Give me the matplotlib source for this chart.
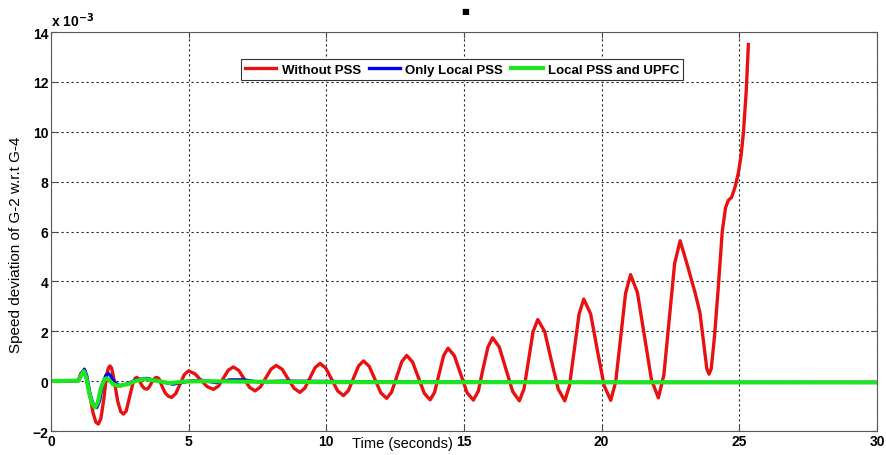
import numpy as np
import matplotlib.pyplot as plt

# speed deviation (x 1e-3)
t_red = [0.0, 0.9, 1.0, 1.08, 1.17, 1.26, 1.4, 1.52, 1.63, 1.72, 1.81, 1.92, 2.02, 2.08,
         2.14, 2.2, 2.3, 2.42, 2.53, 2.63, 2.73, 2.85, 2.97, 3.05, 3.11, 3.18, 3.3, 3.4,
         3.48, 3.56, 3.68, 3.78, 3.84, 3.92, 4.05, 4.15, 4.27, 4.38,
         4.53, 4.685, 4.84, 4.99, 5.22, 5.445, 5.67, 5.9, 6.08, 6.26, 6.44, 6.62,
         6.82, 7.015, 7.21, 7.41, 7.6, 7.795, 7.99, 8.18, 8.4, 8.61, 8.83, 9.04,
         9.22, 9.405, 9.59, 9.77, 9.98, 10.195, 10.41, 10.62, 10.8, 10.985, 11.17, 11.35,
         11.56, 11.77, 11.98, 12.19, 12.37, 12.555, 12.74, 12.92, 13.13, 13.345, 13.56, 13.77,
         13.93, 14.095, 14.26, 14.42, 14.65, 14.88, 15.11, 15.34, 15.52, 15.69, 15.87, 16.04,
         16.28, 16.525, 16.77, 17.01, 17.18, 17.345, 17.51, 17.68, 17.93, 18.17, 18.42, 18.66,
         18.83, 19.005, 19.18, 19.35, 19.6, 19.84, 20.09, 20.33, 20.51, 20.69, 20.87, 21.05,
         21.3, 21.555, 21.81, 22.06, 22.26, 22.455, 22.65, 22.85, 23.1, 23.39, 23.57,
         23.72, 23.82, 23.9, 23.98, 24.1, 24.24, 24.38, 24.5, 24.6, 24.72, 24.85, 24.97,
         25.07, 25.15, 25.25, 25.33]
v_red = [0.0, 0.0, 0.05, 0.3, 0.4, 0.25, -0.5, -1.25, -1.65, -1.72, -1.5, -0.7, 0.25, 0.52,
         0.61, 0.52, 0.0, -0.8, -1.22, -1.32, -1.2, -0.65, -0.1, 0.1, 0.15, 0.1, -0.18, -0.3,
         -0.32, -0.25, 0.0, 0.13, 0.15, 0.1, -0.25, -0.48, -0.61, -0.65,
         -0.5, -0.12, 0.26, 0.41, 0.3, 0.04, -0.22, -0.33, -0.2, 0.12, 0.44, 0.57,
         0.43, 0.09, -0.25, -0.39, -0.24, 0.12, 0.48, 0.63, 0.47, 0.09, -0.29, -0.45,
         -0.28, 0.13, 0.54, 0.71, 0.52, 0.07, -0.39, -0.58, -0.38, 0.12, 0.61, 0.81,
         0.59, 0.06, -0.47, -0.69, -0.44, 0.17, 0.78, 1.03, 0.77, 0.14, -0.49, -0.75,
         -0.45, 0.29, 1.02, 1.32, 1.02, 0.28, -0.46, -0.76, -0.4, 0.49, 1.37, 1.74,
         1.37, 0.48, -0.42, -0.79, -0.31, 0.84, 1.99, 2.47, 1.99, 0.84, -0.31, -0.79,
         -0.19, 1.25, 2.69, 3.29, 2.7, 1.26, -0.18, -0.77, -0.03, 1.75, 3.53, 4.27,
         3.55, 1.8, 0.05, -0.67, 0.25, 2.48, 4.71, 5.63, 4.7, 3.56, 2.75,
         1.4, 0.5, 0.28, 0.5, 1.8, 3.82, 6.0, 6.95, 7.25, 7.37, 7.8, 8.37,
         9.1, 9.97, 11.6, 13.5]

t_blue = [0.0, 1.0, 1.1, 1.21, 1.3, 1.42, 1.55, 1.66, 1.76, 1.88, 2.0, 2.08, 2.16, 2.3,
          2.5, 2.8, 3.1, 3.47, 3.9, 4.43, 5.0, 5.5, 6.0, 6.5, 7.0, 7.5, 8.5, 12.0, 20.0, 30.0]
v_blue = [0.0, 0.02, 0.3, 0.48, 0.2, -0.55, -0.98, -1.06, -0.8, -0.1, 0.25, 0.31, 0.22, -0.05,
          -0.19, -0.1, 0.05, 0.11, 0.0, -0.12, 0.0, 0.03, -0.06, 0.05, 0.05, -0.03, 0.0, -0.03,
          -0.05, -0.05]

t_green = [0.0, 1.0, 1.1, 1.19, 1.28, 1.4, 1.5, 1.6, 1.7, 1.82, 1.94, 2.02, 2.1, 2.25,
           2.45, 2.8, 3.1, 3.41, 3.8, 4.3, 4.8, 5.5, 7.0, 10.0, 30.0]
v_green = [0.0, 0.02, 0.25, 0.4, 0.15, -0.55, -0.92, -1.05, -0.85, -0.25, 0.07, 0.11, 0.05,
           -0.12, -0.19, -0.12, 0.02, 0.08, 0.02, -0.08, -0.02, 0.0, -0.02, -0.04, -0.05]

fig = plt.figure(figsize=(8.86, 4.56), dpi=100)
ax = fig.add_axes([0.0576, 0.0526, 0.9322, 0.875])

ax.plot(t_red, v_red, color='#e81010', lw=2.4, label='Without PSS')
ax.plot(t_blue, v_blue, color='#0000ee', lw=2.4, label='Only Local PSS')
ax.plot(t_green, v_green, color='#1ee61e', lw=3.0, label='Local PSS and UPFC')

ax.set_xlim(0, 30)
ax.set_ylim(-2, 14)
ax.set_xticks(np.arange(0, 31, 5))
ax.set_yticks(np.arange(-2, 15, 2))
ax.grid(True, color='0.15', linestyle=(0, (2, 2.5)), linewidth=0.8)
ax.tick_params(direction='in', length=4, top=True, right=True, pad=2,
               labelsize=10, color='0.3')
for lab in ax.get_xticklabels() + ax.get_yticklabels():
    lab.set_fontweight('bold')
    lab.set_family('Liberation Sans')
for s in ax.spines.values():
    s.set_color('0.35')

ax.set_xlabel('Time (seconds)', fontsize=10.5, family='Liberation Sans')
ax.xaxis.set_label_coords(0.426, -0.0125)
ax.set_ylabel('Speed deviation of G-2 w.r.t G-4', fontsize=11, family='Liberation Sans')
ax.yaxis.set_label_coords(-0.034, 0.47)

ax.text(0.0, 1.008, r'x 10$^{\mathbf{-3}}$', transform=ax.transAxes, fontsize=10,
        fontweight='bold', family='Liberation Sans', va='bottom', ha='left')
fig.text(0.525, 0.975, '\u25a0', fontsize=6, ha='center', va='center')

leg = ax.legend(loc='center', bbox_to_anchor=(0.4976, 0.906), ncol=3, fancybox=False,
                framealpha=1, edgecolor='0.2', handlelength=2.4, columnspacing=0.6,
                handletextpad=0.4, borderpad=0.3,
                prop={'family': 'Liberation Sans', 'weight': 'bold', 'size': 9.5})
leg.get_frame().set_linewidth(0.8)

fig.savefig('out.png', dpi=100)
